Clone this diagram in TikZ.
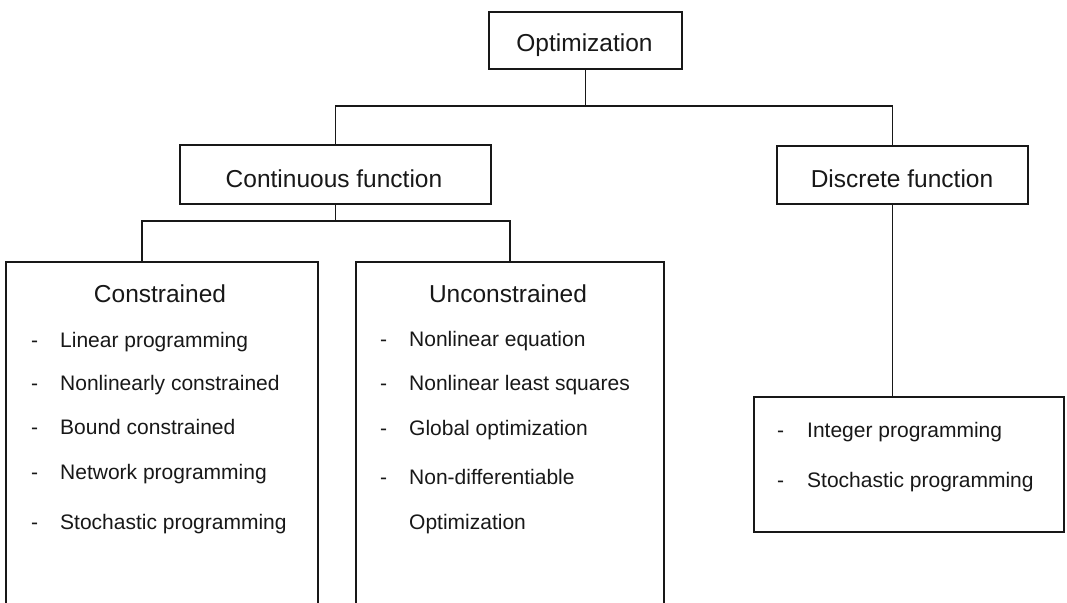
\documentclass[tikz,border=0pt]{standalone}
\usepackage{fontspec}
\setmainfont{Liberation Sans}
\definecolor{ink}{RGB}{24,24,24}

\begin{document}
\begin{tikzpicture}[x=1pt,y=-1pt,
  frame/.style={draw=ink, line width=1.7pt, inner sep=0pt, anchor=north west},
  link/.style={draw=ink, line width=1.6pt},
  head/.style={anchor=base, text=ink, inner sep=0pt, font=\fontsize{24.5}{28}\selectfont},
  entry/.style={anchor=base west, text=ink, inner sep=0pt, font=\fontsize{21}{25}\selectfont},
]
\useasboundingbox (0,0) rectangle (1067,602);
\clip (0,0) rectangle (1067,602);
\fill[white] (0,0) rectangle (1067,602);

% boxes
\node[frame, minimum width=193pt, minimum height=57pt] (opt)    at (488,11)  {};
\node[frame, minimum width=311pt, minimum height=59pt] (cont)   at (179,144) {};
\node[frame, minimum width=251pt, minimum height=58pt] (disc)   at (776,145) {};
\node[frame, minimum width=312pt, minimum height=380pt] (cons)  at (5,261)   {};
\node[frame, minimum width=308pt, minimum height=380pt] (uncons) at (355,261) {};
\node[frame, minimum width=310pt, minimum height=135pt] (dlist) at (753,396) {};

% connectors
\coordinate (busA) at (585,106);
\coordinate (busB) at (335,221);
\draw[link] (opt.south) -- (opt.south |- busA);
\draw[link] (cont.north) |- (busA) -| ([xshift=-10pt]disc.north);
\draw[link] (cont.south) -- (cont.south |- busB);
\draw[link] ([xshift=-20pt]cons.north) |- (busB) -| (uncons.north);
\draw[link] ([xshift=-10pt]disc.south) -- ([xshift=-10pt]disc.south |- dlist.north);

% headings
\node[head] (optT)    at (584.5,52) {Optimization};
\node[head] (contT)   at (334,187)  {Continuous function};
\node[head] (discT)   at (902,187)  {Discrete function};
\node[head] (consT)   at (160,302)  {Constrained};
\node[head] (unconsT) at (508,302)  {Unconstrained};

% constrained methods
\node[entry] (c1) at (31,347) {\makebox[29pt][l]{-}Linear programming};
\node[entry] (c2) at (31,390) {\makebox[29pt][l]{-}Nonlinearly constrained};
\node[entry] (c3) at (31,434) {\makebox[29pt][l]{-}Bound constrained};
\node[entry] (c4) at (31,479) {\makebox[29pt][l]{-}Network programming};
\node[entry] (c5) at (31,529) {\makebox[29pt][l]{-}Stochastic programming};

% unconstrained methods
\node[entry] (u1) at (380,346) {\makebox[29pt][l]{-}Nonlinear equation};
\node[entry] (u2) at (380,390) {\makebox[29pt][l]{-}Nonlinear least squares};
\node[entry] (u3) at (380,435) {\makebox[29pt][l]{-}Global optimization};
\node[entry] (u4) at (380,484) {\makebox[29pt][l]{-}Non-differentiable};
\node[entry] (u5) at (380,529) {\makebox[29pt][l]{}Optimization};

% discrete methods
\node[entry] (d1) at (777,437) {\makebox[30pt][l]{-}Integer programming};
\node[entry] (d2) at (777,487) {\makebox[30pt][l]{-}Stochastic programming};
\end{tikzpicture}
\end{document}
